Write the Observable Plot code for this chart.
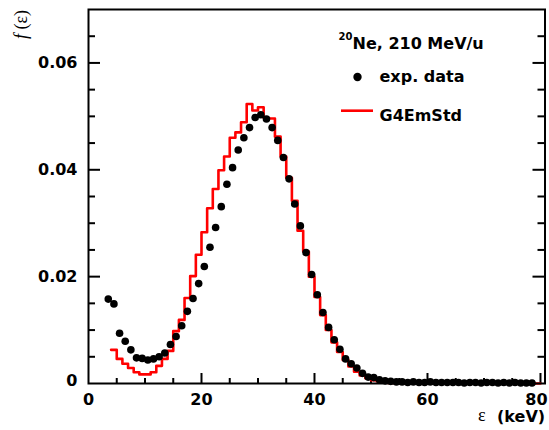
<!DOCTYPE html>
<html><head><meta charset="utf-8">
<script src="https://cdn.jsdelivr.net/npm/d3@7"></script>
<script src="https://cdn.jsdelivr.net/npm/@observablehq/plot@0.6"></script>
<style>
body{margin:0;background:#fff}
#chart{position:relative;width:549px;height:430px}
</style>
</head><body><div id="chart"></div>
<script>
// experimental data (bin centres, keV) and values
const expEnergy = [3.5,4.5,5.5,6.5,7.5,8.5,9.5,10.5,11.5,12.5,13.5,14.5,15.5,16.5,17.5,18.5,19.5,20.5,21.5,22.5,
  23.5,24.5,25.5,26.5,27.5,28.5,29.5,30.5,31.5,32.5,33.5,34.5,35.5,36.5,37.5,38.5,39.5,40.5,41.5,42.5,
  43.5,44.5,45.5,46.5,47.5,48.5,49.5,50.5,51.5,52.5,53.5,54.5,55.5,56.5,57.5,58.5,59.5,60.5,61.5,62.5,
  63.5,64.5,65.5,66.5,67.5,68.5,69.5,70.5,71.5,72.5,73.5,74.5,75.5,76.5,77.5,78.5];
const expValue = [0.0158,0.0149,0.0094,0.0079,0.0063,0.0048,0.0047,0.0044,0.0046,0.0050,0.0057,0.0073,0.0088,0.0108,0.0135,0.0159,0.0187,0.0219,0.0255,0.0292,
  0.0331,0.0373,0.0404,0.0437,0.0460,0.0479,0.0498,0.0503,0.0495,0.0479,0.0455,0.0423,0.0383,0.0336,0.0295,0.0245,0.0204,0.0166,0.0133,0.0105,
  0.0082,0.0064,0.0046,0.0037,0.0029,0.0019,0.0012,0.0011,0.0007,0.0005,0.0004,0.0003,0.0003,0.0002,0.0003,0.0002,0.0002,0.0003,0.0002,0.0002,
  0.0002,0.0002,0.0002,0.0001,0.0002,0.0002,0.0001,0.0002,0.0002,0.0001,0.0002,0.0001,0.0002,0.0001,0.0001,0.0001];

// G4EmStd histogram: lower bin edges (keV) and contents
const g4BinLow = [4,5,6,7,8,9,10,11,12,13,14,15,16,17,18,19,20,21,22,23,24,25,26,27,28,29,30,31,32,33,
  34,35,36,37,38,39,40,41,42,43,44,45,46,47,48,49,50,51,52,53,54,55,56,57,58,59,60,61,62,63,
  64,65,66,67,68,69,70,71,72,73,74,75,76,77,78,79];
const g4Value = [0.0063,0.0046,0.0037,0.0029,0.0021,0.0017,0.0017,0.0021,0.0033,0.0046,0.0061,0.0098,0.0119,0.0160,0.0201,0.0241,0.0283,0.0328,0.0364,0.0399,
  0.0425,0.0460,0.0470,0.0489,0.0523,0.0511,0.0517,0.0497,0.0496,0.0462,0.0425,0.0385,0.0342,0.0286,0.0247,0.0200,0.0162,0.0128,0.0100,0.0077,
  0.0059,0.0044,0.0032,0.0022,0.0015,0.0010,0.0006,0.0004,0.0002,0.0001,0.0001,0,0,0,0,0,0,0,0,0,
  0,0,0,0,0,0,0,0,0,0,0,0,0,0,0,0];
const g4BinHighEdge = 80;

// axis ticks
const xLabelTicks = [0,20,40,60];
const xLastTick = [80];
const xMajorTicks = [20,40,60,80];
const xMinorTicks = [5,10,15,25,30,35,45,50,55,65,70,75];
const yLabelTicks = [0.02,0.04,0.06];
const yZeroTick = [0];
const yMajorTicks = [0.02,0.04,0.06];
const yMinorTicks = [0.005,0.01,0.015,0.025,0.03,0.035,0.045,0.05,0.055,0.065];
const yTickText = d => d === 0 ? "0" : d.toFixed(2);

// texts
const legendTitleSup = "20";
const legendTitleMain = "Ne, 210 MeV/u";
const legendExp = "exp. data";
const legendG4 = "G4EmStd";
const xTitleSymbol = "ε";
const xTitleUnit = "(keV)";
const yTitleF = "f";
const yTitleArg = " (ε)";

const histData = g4BinLow.map((x, i) => ({x, y: g4Value[i]}))
  .concat([{x: g4BinHighEdge, y: g4Value[g4Value.length - 1]}]);
const expData = expEnergy.map((x, i) => ({x, y: expValue[i]}));

const W = 549, H = 430, ML = 88, MR = 4.5, MT = 9, MB = 47;
const innerW = W - ML - MR, innerH = H - MT - MB;
const bold = {fontFamily: "DejaVu Sans", fontWeight: "bold", fontSize: 16};

const plot = Plot.plot({
  width: W, height: H,
  marginLeft: ML, marginRight: MR, marginTop: MT, marginBottom: MB,
  x: {domain: [0, 80.8]},
  y: {domain: [0, 0.07]},
  style: {background: "white", color: "black", fontFamily: "DejaVu Sans", fontWeight: "bold", fontSize: "16px"},
  marks: [
    // inward ticks
    Plot.tickX(xMajorTicks, {x: d => d, insetTop: innerH - 10, stroke: "black", strokeWidth: 2}),
    Plot.tickX(xMinorTicks, {x: d => d, insetTop: innerH - 5, stroke: "black", strokeWidth: 2}),
    Plot.tickY(yMajorTicks, {y: d => d, insetRight: innerW - 12, stroke: "black", strokeWidth: 2}),
    Plot.tickY(yMinorTicks, {y: d => d, insetRight: innerW - 7, stroke: "black", strokeWidth: 2}),
    Plot.tickY(yMajorTicks, {y: d => d, insetLeft: innerW - 12, stroke: "black", strokeWidth: 2}),
    Plot.tickY(yMinorTicks, {y: d => d, insetLeft: innerW - 7, stroke: "black", strokeWidth: 2}),
    // tick labels
    Plot.axisX(xLabelTicks, {tickSize: 0, tickPadding: 10, label: null, ...bold}),
    Plot.axisX(xLastTick, {tickSize: 0, tickPadding: 10, dx: -4, label: null, ...bold}),
    Plot.axisY(yLabelTicks, {tickSize: 0, tickPadding: 11, tickFormat: yTickText, label: null, ...bold}),
    Plot.axisY(yZeroTick, {tickSize: 0, tickPadding: 11, dy: -3, tickFormat: yTickText, label: null, ...bold}),
    // data
    Plot.line(histData, {x: "x", y: "y", curve: "step-after", stroke: "#ff0000", strokeWidth: 2.6}),
    Plot.dot(expData, {x: "x", y: "y", r: 3.8, fill: "black", stroke: "none"}),
    Plot.frame({stroke: "black", strokeWidth: 2})
  ]
});

const svg = d3.select(plot);
function addText(x, y, txt, family, size, weight) {
  return svg.append("text").attr("x", x).attr("y", y)
    .attr("text-anchor", "start")
    .attr("font-family", family).attr("font-weight", weight).attr("font-size", size)
    .attr("fill", "black").text(txt);
}
// y title
const yt = svg.append("text")
  .attr("transform", "translate(27,10) rotate(-90)")
  .attr("text-anchor", "end")
  .attr("font-family", "Liberation Serif")
  .attr("font-weight", "normal")
  .attr("font-size", 18)
  .attr("fill", "black");
yt.append("tspan").attr("font-style", "italic").text(yTitleF);
yt.append("tspan").text(yTitleArg);
// x title
addText(478, 421, xTitleSymbol, "Liberation Serif", 18, "normal");
addText(497, 422, xTitleUnit, "DejaVu Sans", 16, "bold");
// legend
addText(338.5, 40, legendTitleSup, "DejaVu Sans", 10, "bold");
addText(352.5, 48.5, legendTitleMain, "DejaVu Sans", 16, "bold");
svg.append("circle").attr("cx", 357.5).attr("cy", 77).attr("r", 4.2).attr("fill", "black");
addText(379.5, 82, legendExp, "DejaVu Sans", 16, "bold");
svg.append("line").attr("x1", 341).attr("x2", 373).attr("y1", 110.7).attr("y2", 110.7)
  .attr("stroke", "#ff0000").attr("stroke-width", 2.6);
addText(379.5, 120.5, legendG4, "DejaVu Sans", 16, "bold");

document.getElementById("chart").appendChild(plot);
</script>
</body></html>
